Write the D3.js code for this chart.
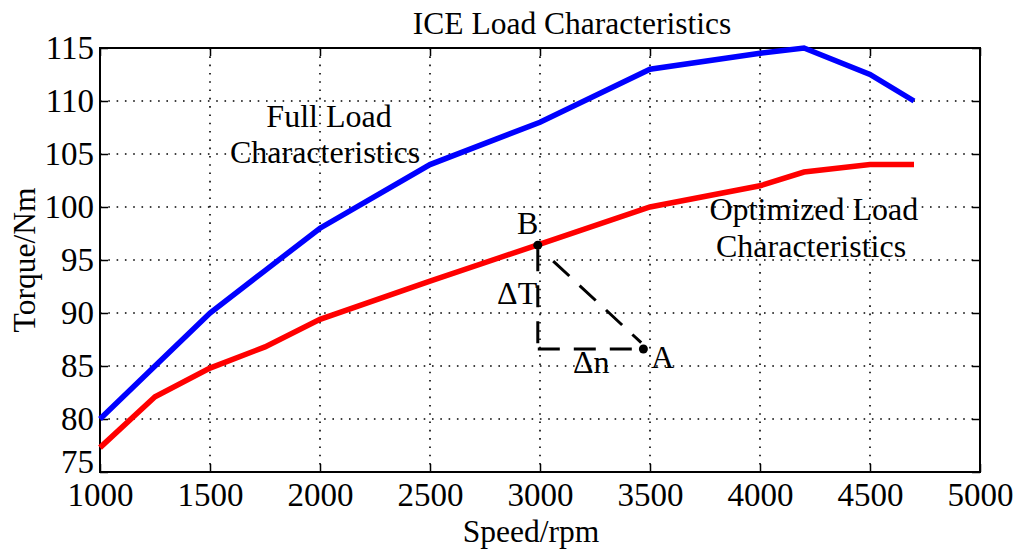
<!DOCTYPE html>
<html lang="en">
<head>
<meta charset="UTF-8">
<title>ICE Load Characteristics</title>
<script src="https://d3js.org/d3.v7.min.js"></script>
<style>
  body { margin: 0; background: white; }
  text { font-family: "Liberation Serif", "Times New Roman", serif; fill: black; }
</style>
</head>
<body>
<svg id="main" width="1024" height="560"></svg>
<script>
// data
let speed = [1000, 1250, 1500, 1750, 2000, 2500, 3000, 3500, 4000, 4200, 4500, 4700];
let fullLoad = [80, 85, 90, 94, 98, 104, 108, 113, 114.5, 115, 112.5, 110];
let optLoad = [77.3, 82.1, 84.8, 86.8, 89.4, 93, 96.5, 100, 102, 103.3, 104, 104];
let xTicks = [1000, 1500, 2000, 2500, 3000, 3500, 4000, 4500, 5000];
let yTicks = [75, 80, 85, 90, 95, 100, 105, 110, 115];
let pointB = [2990, 96.4];
let pointA = [3470, 86.6];

let svg = d3.select('svg#main');
let box = {left: 100, right: 980, top: 48, bottom: 472};

let x = d3.scaleLinear().domain([1000, 5000]).range([box.left, box.right]);
let y = d3.scaleLinear().domain([75, 115]).range([box.bottom, box.top]);

// grid
let grid = svg.append('g').attr('class', 'grid');
grid.selectAll('line.gx').data(xTicks.slice(1, -1)).enter().append('line')
    .attr('x1', d => x(d)).attr('x2', d => x(d))
    .attr('y1', box.top).attr('y2', box.bottom);
grid.selectAll('line.gy').data(yTicks.slice(1, -1)).enter().append('line')
    .attr('y1', d => y(d)).attr('y2', d => y(d))
    .attr('x1', box.left).attr('x2', box.right);
grid.selectAll('line')
    .style('stroke', 'black').style('stroke-width', 1.6)
    .style('stroke-dasharray', '1.6,6.7');

// axes, ticks pointing inward on all sides
let tk = 8;
svg.append('g').attr('transform', 'translate(0,' + box.bottom + ')')
    .call(d3.axisBottom(x).tickValues(xTicks).tickSizeInner(-tk).tickSizeOuter(0).tickPadding(11).tickFormat(d3.format('d')))
    .call(g => g.selectAll('text').style('font-size', '33px'));
svg.append('g').attr('transform', 'translate(0,' + box.top + ')')
    .call(d3.axisTop(x).tickValues(xTicks).tickSizeInner(-tk).tickSizeOuter(0).tickFormat(''));
svg.append('g').attr('transform', 'translate(' + box.left + ',0)')
    .call(d3.axisLeft(y).tickValues(yTicks).tickSizeInner(-tk).tickSizeOuter(0).tickPadding(6))
    .call(g => g.selectAll('text').style('font-size', '33px'))
    // the lowest label sits a little higher, clear of the x labels
    .call(g => g.selectAll('.tick text').filter(d => d === 75).attr('dy', '0.02em'));
svg.append('g').attr('transform', 'translate(' + box.right + ',0)')
    .call(d3.axisRight(y).tickValues(yTicks).tickSizeInner(-tk).tickSizeOuter(0).tickFormat(''));
svg.selectAll('.domain').remove();
svg.selectAll('.tick line').style('stroke', 'black').style('stroke-width', 1.5);
svg.append('rect')
    .attr('x', box.left).attr('y', box.top)
    .attr('width', box.right - box.left).attr('height', box.bottom - box.top)
    .style('fill', 'none').style('stroke', 'black').style('stroke-width', 2);

// curves
let pts = (vals) => speed.map((s, i) => [s, vals[i]]);
let line = d3.line().x(d => x(d[0])).y(d => y(d[1]));
svg.append('path').datum(pts(fullLoad)).attr('d', line)
    .style('fill', 'none').style('stroke', '#0000ff').style('stroke-width', 5.5);
svg.append('path').datum(pts(optLoad)).attr('d', line)
    .style('fill', 'none').style('stroke', '#ff0000').style('stroke-width', 5.5);

// B -> A triangle
let corner = [pointB[0], pointA[1]];
let dash = svg.append('g').style('stroke', 'black').style('stroke-width', 3)
    .style('fill', 'none').style('stroke-dasharray', '22,14');
dash.append('path').attr('d', line([pointB, corner])).style('stroke-dashoffset', -4);
dash.append('path').attr('d', line([corner, pointA]));
dash.append('path').attr('d', line([[pointB[0] + 70, pointB[1] - 1.5], [pointA[0] - 10, pointA[1] + 0.6]]));
svg.selectAll('circle.pt').data([pointB, pointA]).enter().append('circle')
    .attr('cx', d => x(d[0])).attr('cy', d => y(d[1])).attr('r', 4.5).style('fill', 'black');

// labels
let lab = [
  {t: 'B', x: 2895, y: 97.45, a: 'start'},
  {t: 'A', x: 3505, y: 84.8, a: 'start'},
  {t: 'ΔT', x: 2805, y: 90.85, a: 'start'},
  {t: 'Δn', x: 3150, y: 84.34, a: 'start'},
  {t: 'Full Load', x: 2041, y: 107.55, a: 'middle'},
  {t: 'Characteristics', x: 2023, y: 104.15, a: 'middle'},
  {t: 'Optimized Load', x: 4245, y: 98.77, a: 'middle'},
  {t: 'Characteristics', x: 4232, y: 95.28, a: 'middle'}
];
svg.selectAll('text.lab').data(lab).enter().append('text')
    .attr('x', d => x(d.x)).attr('y', d => y(d.y))
    .attr('text-anchor', d => d.a).style('font-size', '32px').text(d => d.t);

svg.append('text').attr('x', 572).attr('y', 34).attr('text-anchor', 'middle')
    .style('font-size', '31.5px').text('ICE Load Characteristics');
svg.append('text').attr('x', 531).attr('y', 542).attr('text-anchor', 'middle')
    .style('font-size', '31.5px').text('Speed/rpm');
svg.append('text').attr('transform', 'translate(35,260) rotate(-90)').attr('text-anchor', 'middle')
    .style('font-size', '31.5px').text('Torque/Nm');
</script>
</body>
</html>
